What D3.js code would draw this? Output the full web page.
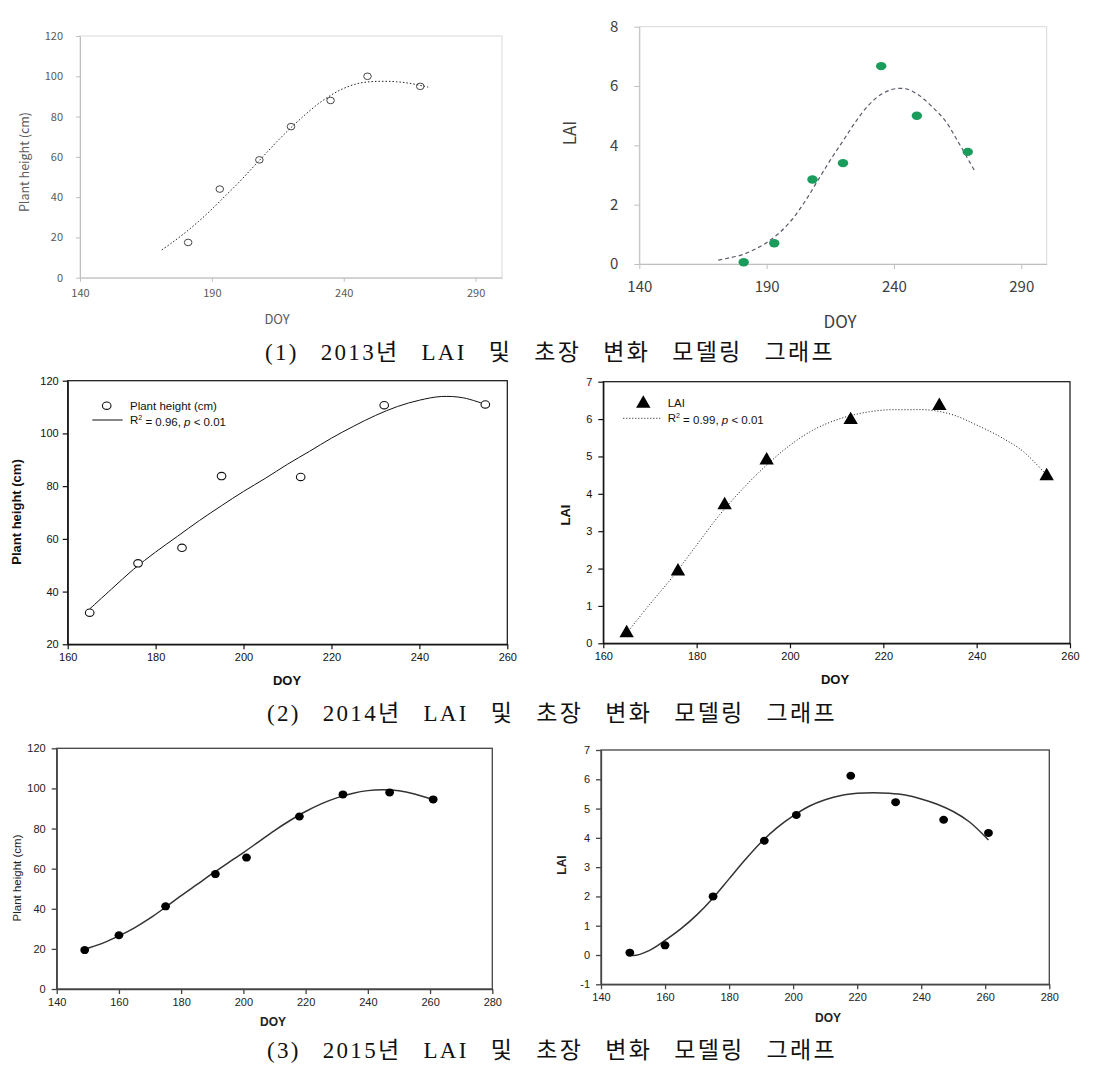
<!DOCTYPE html>
<html><head><meta charset="utf-8">
<script src="https://cdn.jsdelivr.net/npm/d3@7"></script>
<style>body{margin:0;background:#fff}svg{display:block}</style>
</head><body><svg id="c" width="1100" height="1071"></svg>
<script>
// ---------- DATA ----------
// 2013
const doy2013Obs = [181, 193, 208, 220, 235, 249, 269];
const height2013Obs = [17.5, 44, 58.5, 75, 88, 100, 95];
const lai2013Obs = [0.06, 0.7, 2.85, 3.4, 6.67, 5.0, 3.78];
const doy2013Fit = [171, 175, 180, 185, 190, 195, 200, 205, 210, 215, 220, 225, 230, 235, 240, 245, 250, 255, 260, 265, 270, 272];
const height2013Fit = [13.8, 17.5, 22.5, 28, 34, 40.5, 47, 54, 61, 68, 74.5, 80.5, 86, 90.5, 94, 96.3, 97.3, 97.5, 97.3, 96.5, 95.2, 94.6];
const lai2013Fit = [0.13, 0.2, 0.3, 0.48, 0.72, 1.05, 1.5, 2.1, 2.8, 3.5, 4.15, 4.8, 5.35, 5.72, 5.9, 5.9, 5.68, 5.3, 4.85, 4.15, 3.4, 3.09];
// 2014
const doy2014Obs = [165, 176, 186, 195, 213, 232, 255];
const height2014Obs = [32, 50.7, 56.6, 83.8, 83.5, 110.7, 111];
const lai2014Obs = [0.3, 1.95, 3.72, 4.92, 6.0, 6.38, 4.5];
const doy2014Fit = [165, 170, 175, 180, 185, 190, 195, 200, 205, 210, 215, 220, 225, 230, 235, 240, 245, 250, 255];
const height2014Fit = [33.4, 41, 48.5, 55, 61, 67, 72.6, 78, 83, 88.3, 93.2, 98.2, 102.7, 106.8, 110.2, 112.6, 114, 113.5, 111];
const lai2014Fit = [0.27, 1.05, 1.8, 2.63, 3.45, 4.15, 4.77, 5.3, 5.71, 5.98, 6.15, 6.24, 6.25, 6.24, 6.11, 5.84, 5.53, 5.13, 4.5];
// 2015
const doy2015Obs = [149, 160, 175, 191, 201, 218, 232, 247, 261];
const height2015Obs = [19.4, 26.8, 41.2, 57.3, 65.5, 86, 97, 98, 94.5];
const lai2015Obs = [0.08, 0.33, 2.0, 3.9, 4.78, 6.12, 5.22, 4.62, 4.17];
const doy2015Fit = [149, 150, 155, 160, 165, 170, 175, 180, 185, 190, 195, 200, 205, 210, 215, 220, 225, 230, 235, 240, 245, 250, 255, 261];
const height2015Fit = [19.8, 20.3, 23, 26.5, 30.5, 35.3, 40.8, 46.5, 52, 57.5, 62.8, 68, 73.5, 79, 84, 88.5, 92.3, 95.3, 97.5, 98.9, 99.3, 98.8, 97.2, 94.3];
const lai2015Fit = [0.03, -0.02, 0.15, 0.5, 0.9, 1.38, 1.95, 2.6, 3.25, 3.85, 4.35, 4.75, 5.08, 5.3, 5.45, 5.52, 5.54, 5.52, 5.46, 5.33, 5.15, 4.9, 4.55, 3.93];
// ticks
const ticksX2013 = [140, 190, 240, 290];
const ticksHeight2013 = [0, 20, 40, 60, 80, 100, 120];
const ticksLai2013 = [0, 2, 4, 6, 8];
const ticksX2014 = [160, 180, 200, 220, 240, 260];
const ticksHeight2014 = [20, 40, 60, 80, 100, 120];
const ticksLai2014 = [0, 1, 2, 3, 4, 5, 6, 7];
const ticksX2015 = [140, 160, 180, 200, 220, 240, 260, 280];
const ticksHeight2015 = [0, 20, 40, 60, 80, 100, 120];
const ticksLai2015 = [-1, 0, 1, 2, 3, 4, 5, 6, 7];
// labels
const xTitle = "DOY";
const heightTitle = "Plant height (cm)";
const laiTitle = "LAI";
const legendHeight2014 = ["Plant height (cm)", "0.96"];
const legendLai2014 = ["LAI", "0.99"];
const captions = ["(1) 2013년 LAI 및 초장 변화 모델링 그래프", "(2) 2014년 LAI 및 초장 변화 모델링 그래프", "(3) 2015년 LAI 및 초장 변화 모델링 그래프"];

// ---------- DRAWING ----------
const svg = d3.select("#c");
const zip = (a, b) => a.map((v, i) => [v, b[i]]);
const fmt = d => String(d);

function panel(c) {
  const x = d3.scaleLinear().domain(c.xDomain).range([c.left, c.right]);
  const y = d3.scaleLinear().domain(c.yDomain).range([c.bottom, c.top]);
  const g = svg.append("g");
  g.append("rect").attr("x", c.left).attr("y", c.top)
    .attr("width", c.right - c.left).attr("height", c.bottom - c.top)
    .attr("fill", "none").attr("stroke", c.frameColor).attr("stroke-width", c.frameWidth);

  const xa = g.append("g").attr("transform", `translate(0,${c.bottom})`)
    .call(d3.axisBottom(x).tickValues(c.xTicks).tickSize(c.tick).tickSizeOuter(0).tickPadding(c.xPad).tickFormat(fmt));
  const ya = g.append("g").attr("transform", `translate(${c.left},0)`)
    .call(d3.axisLeft(y).tickValues(c.yTicks).tickSize(c.tick).tickSizeOuter(0).tickPadding(c.yPad).tickFormat(fmt));
  [xa, ya].forEach(a => {
    a.select(".domain").attr("stroke", c.axisColor).attr("stroke-width", c.axisWidth);
    a.selectAll(".tick line").attr("stroke", c.axisColor).attr("stroke-width", c.axisWidth);
    a.selectAll(".tick text").attr("fill", c.textColor).style("font-family", c.font)
      .style("font-size", c.tickFont + "px").style("font-weight", c.tickWeight || "normal");
  });

  // fitted curve
  g.append("path").datum(zip(c.fitX, c.fitY))
    .attr("fill", "none").attr("stroke", c.lineColor).attr("stroke-width", c.lineWidth)
    .attr("stroke-dasharray", c.dash || null)
    .attr("d", d3.line().x(d => x(d[0])).y(d => y(d[1])).curve(d3.curveCatmullRom.alpha(0.5)));

  // observed points
  const pts = zip(c.obsX, c.obsY);
  drawMarkers(g, pts.map(d => [x(d[0]), y(d[1])]), c.marker);

  // axis titles
  g.append("text").attr("x", c.xTitlePos[0]).attr("y", c.xTitlePos[1])
    .attr("text-anchor", "middle").attr("dominant-baseline", "central")
    .attr("fill", c.textColor).style("font-family", c.titleFont || c.font)
    .style("font-size", c.titleSize + "px").style("font-weight", c.titleWeight || "normal").text(xTitle);
  g.append("text").attr("transform", `translate(${c.yTitlePos[0]},${c.yTitlePos[1]}) rotate(-90)`)
    .attr("text-anchor", "middle").attr("dominant-baseline", "central")
    .attr("fill", c.textColor).style("font-family", c.titleFont || c.font)
    .style("font-size", (c.yTitleSize || c.titleSize) + "px").style("font-weight", c.yTitleWeight || c.titleWeight || "normal").text(c.yTitle);

  if (c.legend) {
    const L = c.legend;
    drawMarkers(g, [[L.markerX, L.y1]], c.marker);
    g.append("line").attr("x1", L.lineX1).attr("x2", L.lineX2).attr("y1", L.y2).attr("y2", L.y2)
      .attr("stroke", c.lineColor).attr("stroke-width", c.lineWidth).attr("stroke-dasharray", c.dash || null);
    const tf = t => t.style("font-family", "Liberation Sans, Arial, sans-serif").style("font-size", "11.5px").attr("fill", "#111");
    tf(g.append("text").attr("x", L.textX).attr("y", L.y1).attr("dominant-baseline", "central").text(L.labels[0]));
    const t2 = tf(g.append("text").attr("x", L.textX).attr("y", L.y2).attr("dominant-baseline", "central"));
    t2.append("tspan").text("R");
    t2.append("tspan").attr("dy", "-0.45em").style("font-size", "7px").text("2");
    t2.append("tspan").attr("dy", "0.45em").text(" = " + L.labels[1] + ", ");
    t2.append("tspan").style("font-style", "italic").text("p");
    t2.append("tspan").text(" < 0.01");
  }
}

function drawMarkers(g, pts, m) {
  pts.forEach(([px, py]) => {
    if (m.type === "tri") {
      const s = m.size;
      g.append("path").attr("d", `M${px},${py - s * 0.62}L${px + s * 0.6},${py + s * 0.42}L${px - s * 0.6},${py + s * 0.42}Z`)
        .attr("fill", m.fill);
    } else {
      g.append("ellipse").attr("cx", px).attr("cy", py).attr("rx", m.rx).attr("ry", m.ry)
        .attr("fill", m.fill).attr("stroke", m.stroke || "none").attr("stroke-width", m.sw || 0);
    }
  });
}

const excelFont = "'Noto Sans CJK KR', 'Noto Sans', sans-serif";
const arial = "'Liberation Sans', Arial, sans-serif";

// (1) 2013 plant height
panel({left: 80, right: 502, top: 36, bottom: 277.7, xDomain: [140, 300], yDomain: [0, 120],
  xTicks: ticksX2013, yTicks: ticksHeight2013, tick: 4, xPad: 8, yPad: 13,
  frameColor: "#d9d9d9", frameWidth: 1, axisColor: "#bfbfbf", axisWidth: 1, textColor: "#595959",
  font: excelFont, tickFont: 11, titleSize: 13, yTitleSize: 12.5,
  fitX: doy2013Fit, fitY: height2013Fit, lineColor: "#222", lineWidth: 1, dash: "1.5,2",
  obsX: doy2013Obs, obsY: height2013Obs, marker: {type: "c", rx: 3.8, ry: 3.3, fill: "none", stroke: "#333", sw: 0.9},
  xTitlePos: [277, 318], yTitlePos: [23, 162], yTitle: heightTitle});

// (1) 2013 LAI
panel({left: 639.3, right: 1046.7, top: 26.7, bottom: 264, xDomain: [140, 300], yDomain: [0, 8],
  xTicks: ticksX2013, yTicks: ticksLai2013, tick: 5, xPad: 12, yPad: 16,
  frameColor: "#d9d9d9", frameWidth: 1, axisColor: "#bfbfbf", axisWidth: 1, textColor: "#404040",
  font: excelFont, tickFont: 15, titleSize: 17,
  fitX: doy2013Fit, fitY: lai2013Fit, lineColor: "#5a5a6a", lineWidth: 1.2, dash: "4,3",
  obsX: doy2013Obs, obsY: lai2013Obs, marker: {type: "c", rx: 5.2, ry: 4.2, fill: "#1a9d5c"},
  xTitlePos: [840, 320], yTitlePos: [568, 133], yTitle: laiTitle});

// (2) 2014 plant height
panel({left: 67.7, right: 507.3, top: 380.7, bottom: 644.3, xDomain: [160, 260], yDomain: [20, 120],
  xTicks: ticksX2014, yTicks: ticksHeight2014, tick: 5, xPad: 4, yPad: 4,
  frameColor: "#111", frameWidth: 1.2, axisColor: "#111", axisWidth: 1.2, textColor: "#111",
  font: arial, tickFont: 11, titleSize: 13, titleWeight: "bold",
  fitX: doy2014Fit, fitY: height2014Fit, lineColor: "#111", lineWidth: 1, dash: null,
  obsX: doy2014Obs, obsY: height2014Obs, marker: {type: "c", rx: 4.3, ry: 3.7, fill: "#fff", stroke: "#111", sw: 1.1},
  xTitlePos: [287, 680], yTitlePos: [16, 512], yTitle: heightTitle,
  legend: {markerX: 106.7, y1: 405.7, y2: 420, lineX1: 92.3, lineX2: 122.7, textX: 130, labels: legendHeight2014}});

// (2) 2014 LAI
panel({left: 603.3, right: 1070, top: 381.7, bottom: 643.3, xDomain: [160, 260], yDomain: [0, 7],
  xTicks: ticksX2014, yTicks: ticksLai2014, tick: 5, xPad: 4, yPad: 6,
  frameColor: "#111", frameWidth: 1.2, axisColor: "#111", axisWidth: 1.2, textColor: "#111",
  font: arial, tickFont: 11, titleSize: 13, titleWeight: "bold",
  fitX: doy2014Fit, fitY: lai2014Fit, lineColor: "#111", lineWidth: 1, dash: "1,2",
  obsX: doy2014Obs, obsY: lai2014Obs, marker: {type: "tri", size: 12, fill: "#000"},
  xTitlePos: [835, 679], yTitlePos: [565, 515], yTitle: laiTitle,
  legend: {markerX: 643.3, y1: 402.7, y2: 418.3, lineX1: 623.3, lineX2: 661.7, textX: 667.7, labels: legendLai2014}});

// (3) 2015 plant height
panel({left: 56.7, right: 492.3, top: 748.3, bottom: 989, xDomain: [140, 280], yDomain: [0, 120],
  xTicks: ticksX2015, yTicks: ticksHeight2015, tick: 5, xPad: 4, yPad: 6,
  frameColor: "#444", frameWidth: 1.3, axisColor: "#444", axisWidth: 1.3, textColor: "#222",
  font: arial, tickFont: 11, titleSize: 12, titleWeight: "bold", yTitleSize: 11.5, yTitleWeight: "normal",
  fitX: doy2015Fit, fitY: height2015Fit, lineColor: "#333", lineWidth: 1.5, dash: null,
  obsX: doy2015Obs, obsY: height2015Obs, marker: {type: "c", rx: 4.4, ry: 4, fill: "#000"},
  xTitlePos: [273, 1022], yTitlePos: [17, 878], yTitle: heightTitle});

// (3) 2015 LAI
panel({left: 601, right: 1049.3, top: 750, bottom: 984.3, xDomain: [140, 280], yDomain: [-1, 7],
  xTicks: ticksX2015, yTicks: ticksLai2015, tick: 5, xPad: 4, yPad: 6,
  frameColor: "#444", frameWidth: 1.3, axisColor: "#444", axisWidth: 1.3, textColor: "#222",
  font: arial, tickFont: 11, titleSize: 12, titleWeight: "bold",
  fitX: doy2015Fit, fitY: lai2015Fit, lineColor: "#333", lineWidth: 1.5, dash: null,
  obsX: doy2015Obs, obsY: lai2015Obs, marker: {type: "c", rx: 4.4, ry: 4, fill: "#000"},
  xTitlePos: [828, 1018], yTitlePos: [562, 865], yTitle: laiTitle});

// captions
const capPos = [[550, 352], [552, 713], [552, 1050]];
captions.forEach((t, i) => {
  svg.append("text").attr("x", capPos[i][0]).attr("y", capPos[i][1])
    .attr("text-anchor", "middle").attr("dominant-baseline", "central")
    .style("font-family", "'Liberation Serif', 'DejaVu Serif', 'Noto Sans CJK KR', serif")
    .style("font-size", "23px").style("letter-spacing", "2.3px").style("word-spacing", "14px")
    .attr("fill", "#111").text(t);
});
</script></body></html>
